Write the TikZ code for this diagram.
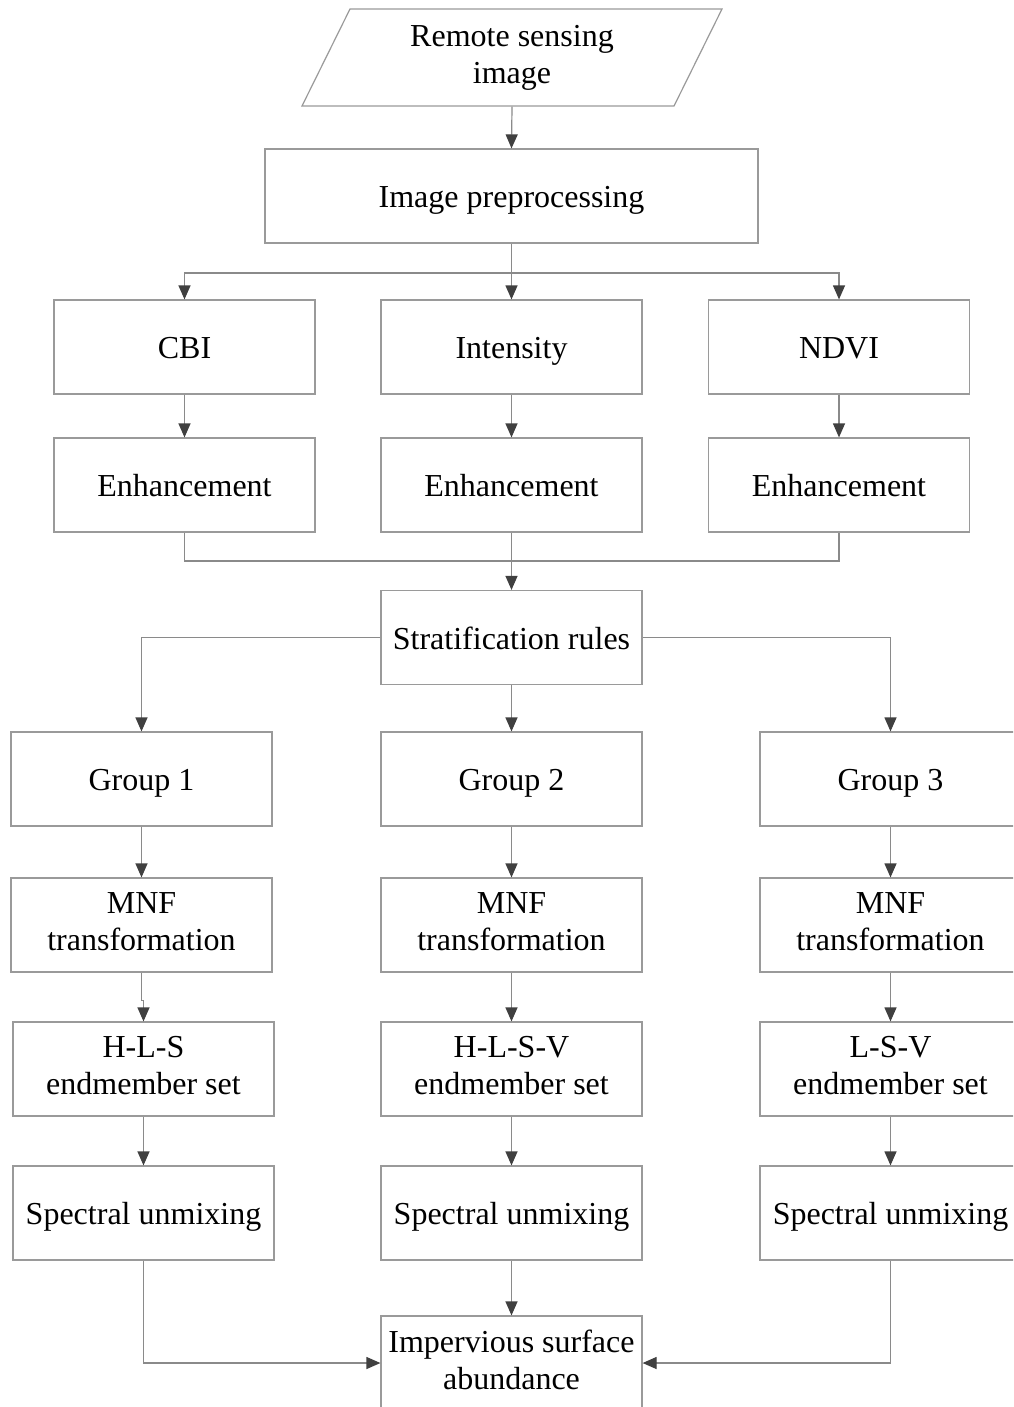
\documentclass[tikz,border=0pt]{standalone}
\usepackage{fontspec}
\setmainfont{Liberation Serif}
\usetikzlibrary{arrows.meta}
\definecolor{boxgray}{HTML}{9A9A9A}
\definecolor{linegray}{HTML}{8A8A8A}
\definecolor{tipgray}{HTML}{404040}
\newcommand\fsz{\fontsize{32}{37}\selectfont}
\newcommand\tstrut{\rule[-7pt]{0pt}{37pt}}
\begin{document}
\begin{tikzpicture}[x=1pt,y=-1pt,
  txt/.style={align=center, inner sep=0pt, font=\fsz, execute at begin node=\tstrut, execute at end node=\tstrut},
  box/.style={txt, draw=boxgray, line width=1.2pt, minimum width=261pt, minimum height=94pt},
  line/.style={draw=linegray, line width=1.2pt},
  conn/.style={line, -{Triangle[width=12pt,length=14pt,color=tipgray]}}]
\clip (0,0) rectangle (1013,1407);
\fill[white] (0,0) rectangle (1013,1407);
% input parallelogram
\node[txt, minimum height=97pt] (rs) at (512,58) {Remote sensing\\image};
\draw[draw=boxgray, line width=1.2pt] (350,9) -- (722,9) -- (674,106) -- (302,106) -- cycle;
\node[box, minimum width=493pt] (pre) at (511.5,196) {Image preprocessing};
% indices
\node[box] (cbi) at (184.5,347) {CBI};
\node[box] (int) at (511.5,347) {Intensity};
\node[box] (ndvi) at (839,347) {NDVI};
\node[box] (e1) at (184.5,485) {Enhancement};
\node[box] (e2) at (511.5,485) {Enhancement};
\node[box] (e3) at (839,485) {Enhancement};
\node[box] (strat) at (511.5,637.5) {Stratification rules};
% groups
\node[box] (g1) at (141.5,779) {Group 1};
\node[box] (g2) at (511.5,779) {Group 2};
\node[box] (g3) at (890.5,779) {Group 3};
\node[box] (m1) at (141.5,925) {MNF\\transformation};
\node[box] (m2) at (511.5,925) {MNF\\transformation};
\node[box] (m3) at (890.5,925) {MNF\\transformation};
\node[box] (h1) at (143.5,1069) {H-L-S\\endmember set};
\node[box] (h2) at (511.5,1069) {H-L-S-V\\endmember set};
\node[box] (h3) at (890.5,1069) {L-S-V\\endmember set};
\node[box] (s1) at (143.5,1213) {Spectral unmixing};
\node[box] (s2) at (511.5,1213) {Spectral unmixing};
\node[box] (s3) at (890.5,1213) {Spectral unmixing};
\node[box] (isa) at (511.5,1363) {Impervious surface\\abundance};
% connectors
\coordinate (br) at (511.5,273);
\coordinate (mg) at (511.5,561);
\draw[conn] (rs.south) -- (pre.north);
\draw[line] (pre.south) -- (br);
\draw[conn] (br) -| (cbi.north);
\draw[conn] (br) -| (ndvi.north);
\draw[conn] (br) -- (int.north);
\draw[conn] (cbi) -- (e1);
\draw[conn] (int) -- (e2);
\draw[conn] (ndvi) -- (e3);
\draw[line] (e1.south) |- (mg) -| (e3.south);
\draw[conn] (e2.south) -- (strat.north);
\draw[conn] (strat.west) -| (g1.north);
\draw[conn] (strat.east) -| (g3.north);
\draw[conn] (strat.south) -- (g2.north);
\draw[conn] (g1) -- (m1);
\draw[conn] (g2) -- (m2);
\draw[conn] (g3) -- (m3);
\draw[conn] (m1.south) -- ++(0,28) -| (h1.north);
\draw[conn] (m2) -- (h2);
\draw[conn] (m3) -- (h3);
\draw[conn] (h1) -- (s1);
\draw[conn] (h2) -- (s2);
\draw[conn] (h3) -- (s3);
\draw[conn] (s1.south) |- (isa.west);
\draw[conn] (s3.south) |- (isa.east);
\draw[conn] (s2.south) -- (isa.north);
\end{tikzpicture}
\end{document}
